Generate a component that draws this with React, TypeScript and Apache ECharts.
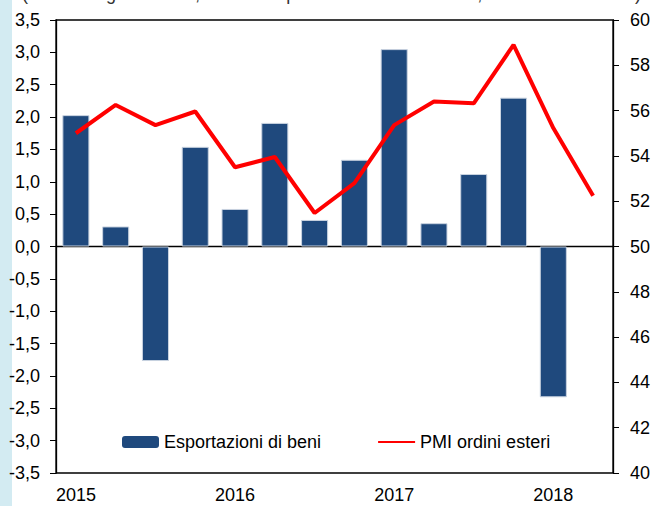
import React, { useEffect, useRef } from "react";
import * as echarts from "echarts";

const categories = [
  "2015 T1", "2015 T2", "2015 T3", "2015 T4",
  "2016 T1", "2016 T2", "2016 T3", "2016 T4",
  "2017 T1", "2017 T2", "2017 T3", "2017 T4",
  "2018 T1", "2018 T2",
];
const exportsValues: (number | null)[] = [
  2.03, 0.31, -1.77, 1.54, 0.58, 1.91, 0.41, 1.34, 3.05, 0.36, 1.12, 2.3, -2.33, null,
];
const pmiValues = [
  55.0, 56.25, 55.36, 55.96, 53.5, 53.95, 51.48, 52.8, 55.36, 56.4, 56.32, 58.9, 55.23, 52.24,
];
const seriesNames = ["Esportazioni di beni", "PMI ordini esteri"];
const topNote = "(dati destagionalizzati; variazioni percentuali sul trimestre; indice di diffusione)";

const FONT = 'Arial, "Liberation Sans", sans-serif';

export default function App() {
  const ref = useRef<HTMLDivElement>(null);
  useEffect(() => {
    if (!ref.current) return;
    const chart = echarts.init(ref.current, null, { renderer: "svg" });
    chart.setOption({
      animation: false,
      backgroundColor: "#ffffff",
      textStyle: { fontFamily: FONT },
      graphic: [
        { type: "rect", left: 0, top: 0, shape: { width: 12, height: 506 }, style: { fill: "#d3ebf2" }, z: -1 },
        {
          type: "text", left: 22, top: -15,
          style: { text: topNote, font: `18px ${FONT}`, fill: "#333" },
        },
      ],
      grid: {
        left: 56, right: 41, top: 20, bottom: 33,
        show: true, borderColor: "#000", borderWidth: 1.3, backgroundColor: "transparent",
      },
      legend: {
        left: 117, top: 428,
        itemWidth: 37, itemHeight: 12, itemGap: 56,
        textStyle: { fontSize: 18, color: "#000", fontFamily: FONT },
        data: [
          { name: seriesNames[0], itemStyle: { borderWidth: 0 } },
          { name: seriesNames[1], itemStyle: { opacity: 0, borderWidth: 0 } },
        ],
      },
      xAxis: [
        {
          type: "category", data: categories, position: "bottom",
          axisLine: { onZero: true, lineStyle: { color: "#000", width: 1.3 } },
          axisTick: { show: false },
          axisLabel: { show: false },
        },
        {
          type: "category", data: categories, position: "bottom",
          axisLine: { show: false, onZero: false },
          axisTick: { show: false },
          axisLabel: {
            interval: 3, margin: 13, fontSize: 18, color: "#000", fontFamily: FONT,
            formatter: (v: string) => v.slice(0, 4),
          },
        },
      ],
      yAxis: [
        {
          type: "value", min: -3.5, max: 3.5, interval: 0.5,
          splitLine: { show: false },
          axisLine: { show: true, lineStyle: { color: "#000", width: 1.3 } },
          axisTick: { show: true, length: 6, lineStyle: { color: "#000" } },
          axisLabel: {
            margin: 16, fontSize: 18, color: "#000", fontFamily: FONT,
            formatter: (v: number) => v.toFixed(1).replace(".", ","),
          },
        },
        {
          type: "value", min: 40, max: 60, interval: 2, position: "right",
          splitLine: { show: false },
          axisLine: { show: true, lineStyle: { color: "#000", width: 1.3 } },
          axisTick: { show: true, length: 6, lineStyle: { color: "#000" } },
          axisLabel: { margin: 17, fontSize: 18, color: "#000", fontFamily: FONT },
        },
      ],
      series: [
        {
          name: seriesNames[0], type: "bar", data: exportsValues,
          xAxisIndex: 0, yAxisIndex: 0,
          barCategoryGap: "32%",
          itemStyle: { color: "#1f497d", borderColor: "#c9d3e0", borderWidth: 1 },
        },
        {
          name: seriesNames[1], type: "line", data: pmiValues,
          xAxisIndex: 0, yAxisIndex: 1,
          symbol: "none",
          lineStyle: { color: "#ff0000", width: 4 },
          itemStyle: { color: "#ff0000" },
          z: 5,
        },
      ],
    });
    return () => chart.dispose();
  }, []);
  return (
    <div
      ref={ref}
      style={{ position: "fixed", left: 0, top: 0, width: 654, height: 506 }}
    />
  );
}
